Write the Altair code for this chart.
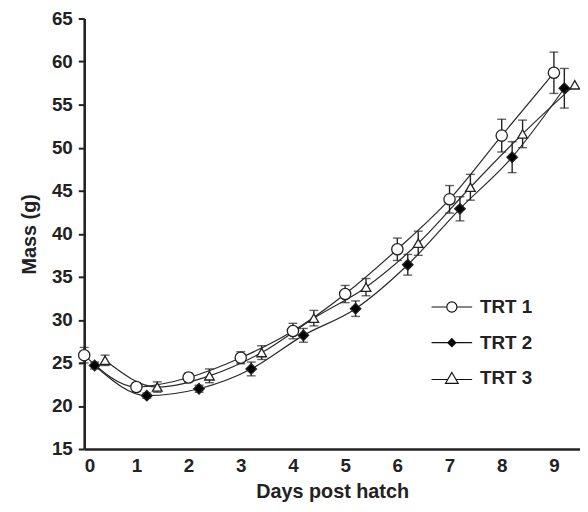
import altair as alt
import pandas as pd

days = [0, 1, 2, 3, 4, 5, 6, 7, 8, 9]
treatments = ["TRT 1", "TRT 2", "TRT 3"]
offsets = [0.0, 0.2, 0.4]

trt1_mass = [25.9, 22.2, 23.3, 25.6, 28.7, 33.0, 38.2, 44.0, 51.4, 58.7]
trt1_err = [0.9, 0.5, 0.5, 0.7, 0.9, 1.0, 1.3, 1.6, 1.9, 2.4]
trt2_mass = [24.7, 21.2, 22.0, 24.3, 28.2, 31.3, 36.4, 42.9, 48.9, 56.9]
trt2_err = [0.4, 0.3, 0.4, 0.8, 0.8, 0.9, 1.2, 1.4, 1.8, 2.3]
trt3_mass = [25.3, 22.2, 23.5, 26.2, 30.2, 33.8, 38.9, 45.4, 51.6, 57.3]
trt3_err = [0.6, 0.6, 0.8, 0.8, 0.9, 1.0, 1.4, 1.5, 1.6, 0.0]

rows = []
for name, off, m, e in zip(treatments, offsets, [trt1_mass, trt2_mass, trt3_mass],
                           [trt1_err, trt2_err, trt3_err]):
    for d, v, s in zip(days, m, e):
        rows.append({"Treatment": name, "day": d + off, "mass": v,
                     "lo": v - s, "hi": v + s, "err": s})
df = pd.DataFrame(rows)
df_err = df[df["err"] > 0]
df_empty = df.iloc[0:0]

FONT = "Liberation Sans"
INK = "#222222"

x_enc = alt.X("day:Q", scale=alt.Scale(domain=[0, 9.5], nice=False),
              axis=alt.Axis(values=days, title="Days post hatch", ticks=False,
                            labelPadding=8, titlePadding=6, format="d"))
y_enc = alt.Y("mass:Q", scale=alt.Scale(domain=[15, 65], nice=False),
              axis=alt.Axis(values=list(range(15, 66, 5)), title="Mass (g)",
                            tickSize=6, tickWidth=2, labelPadding=6, titlePadding=12))

base = alt.Chart(df)

lines = base.mark_line(interpolate="monotone", strokeWidth=1.2, color="#2a2a2a").encode(
    x=x_enc, y=y_enc, detail="Treatment:N")

bars = alt.Chart(df_err).mark_rule(strokeWidth=1.4, color=INK).encode(
    x="day:Q", y="lo:Q", y2="hi:Q")
caps_hi = alt.Chart(df_err).mark_tick(orient="horizontal", size=9, thickness=1.4, color=INK).encode(
    x="day:Q", y="hi:Q")
caps_lo = alt.Chart(df_err).mark_tick(orient="horizontal", size=9, thickness=1.4, color=INK).encode(
    x="day:Q", y="lo:Q")

points = base.mark_point(filled=False, stroke=INK, strokeWidth=1.3, opacity=1).encode(
    x="day:Q", y="mass:Q",
    shape=alt.Shape("Treatment:N", scale=alt.Scale(domain=treatments,
                    range=["circle", "diamond", "triangle-up"]), legend=None),
    fill=alt.Fill("Treatment:N", scale=alt.Scale(domain=treatments,
                  range=["white", "black", "white"]), legend=None),
    size=alt.Size("Treatment:N", scale=alt.Scale(domain=treatments,
                  range=[130, 95, 200]), legend=None),
)

legend_paths = [
    "M-4,0H-1M1,0H4M1,0A1,1,0,1,1,-1,0A1,1,0,1,1,1,0Z",
    "M-4,0H4M0,-0.8L0.8,0L0,0.8L-0.8,0Z",
    "M-4,0.25H-0.8M0.8,0.25H4M0,-1.15L1.25,1.0L-1.25,1.0Z",
]

legend_layer = alt.Chart(df_empty).mark_point(filled=False, strokeWidth=1.2, opacity=1).encode(
    x="day:Q", y="mass:Q",
    shape=alt.Shape("Treatment:N", scale=alt.Scale(domain=treatments, range=legend_paths),
                    legend=alt.Legend(title=None, orient="none", legendX=362, legendY=282,
                                      symbolSize=105, symbolStrokeColor="black",
                                      symbolStrokeWidth=1.2, symbolOpacity=1, labelOffset=19,
                                      rowPadding=16, labelFont=FONT, labelFontSize=19,
                                      labelFontWeight="bold", labelColor=INK)),
    fill=alt.Fill("Treatment:N", scale=alt.Scale(domain=treatments,
                  range=["white", "black", "white"])),
    stroke=alt.Stroke("Treatment:N", scale=alt.Scale(domain=treatments,
                      range=["#111111", "#111111", "#111111"])),
)

chart = alt.layer(lines, bars, caps_hi, caps_lo, points, legend_layer).resolve_scale(
    shape="independent", fill="independent", size="independent", stroke="independent"
).properties(
    width=501, height=435,
    autosize=alt.AutoSizeParams(type="none"),
    padding={"left": 77, "top": 8, "right": 0, "bottom": 60},
).configure_view(stroke=None).configure_axis(
    grid=False, domainColor=INK, domainWidth=2.6, tickColor=INK,
    labelFont=FONT, labelFontSize=19, labelFontWeight="bold", labelColor=INK,
    titleFont=FONT, titleFontSize=20, titleFontWeight="bold", titleColor=INK,
)

chart.save("out.html", embed_options={"renderer": "svg", "actions": False})
